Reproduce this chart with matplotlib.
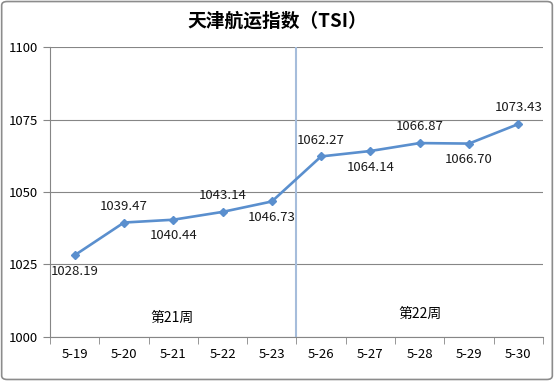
import matplotlib
matplotlib.use('Agg')
import matplotlib.pyplot as plt
from matplotlib.patches import FancyBboxPatch
import numpy as np

plt.rcParams['font.family'] = ['Noto Sans CJK SC', 'DejaVu Sans']

dates = ['5-19', '5-20', '5-21', '5-22', '5-23', '5-26', '5-27', '5-28', '5-29', '5-30']
tsi = [1028.19, 1039.47, 1040.44, 1043.14, 1046.73, 1062.27, 1064.14, 1066.87, 1066.70, 1073.43]
# 标签位置：1=上方，-1=下方
label_side = [-1, 1, -1, 1, -1, 1, -1, 1, -1, 1]
weeks = ['第21周', '第22周']

fig = plt.figure(figsize=(5.54, 3.81), dpi=100)
ax = fig.add_axes([0.0903, 0.1155, 0.8897, 0.7611])

# 外框
border = FancyBboxPatch((0.003, 0.004), 0.994, 0.992, boxstyle='round,pad=0,rounding_size=0.01',
                        transform=fig.transFigure, fill=False, edgecolor='#8c8c8c', linewidth=1.2)
fig.patches.append(border)

x = np.arange(len(dates))
ax.plot(x, tsi, color='#5a8fce', linewidth=1.9, marker='D', markersize=4, zorder=3)

for i, v in enumerate(tsi):
    off = 7 if label_side[i] > 0 else -7
    ax.annotate('%.2f' % v, (x[i], v), xytext=(0, off), textcoords='offset points',
                ha='center', va='bottom' if off > 0 else 'top', fontsize=9.5, color='#1a1a1a')

# 周分隔线
ax.axvline(4.5, color='#a6bddb', linewidth=1.5, zorder=2)
ax.text(1.97, 1006.5, weeks[0], ha='center', va='center', fontsize=10)
ax.text(7.0, 1008, weeks[1], ha='center', va='center', fontsize=10)

ax.set_xlim(-0.5, len(dates) - 0.5)
ax.set_ylim(1000, 1100)
ax.set_yticks([1000, 1025, 1050, 1075, 1100])
ax.set_xticks(x)
ax.set_xticklabels(dates)
ax.set_xticks(np.arange(-0.5, len(dates)), minor=True)
ax.tick_params(axis='x', which='major', length=0, labelsize=9.5, pad=8)
ax.tick_params(axis='x', which='minor', length=5, color='#868686')
ax.tick_params(axis='y', length=5, color='#868686', labelsize=9.5)
ax.grid(axis='y', color='#868686', linewidth=0.8)
ax.set_axisbelow(True)

for s in ['top', 'right']:
    ax.spines[s].set_visible(False)
for s in ['left', 'bottom']:
    ax.spines[s].set_color('#868686')

fig.text(0.5, 0.945, '天津航运指数（TSI）', ha='center', va='center', fontsize=13.5, fontweight='bold')

fig.savefig('out.png', dpi=100)
